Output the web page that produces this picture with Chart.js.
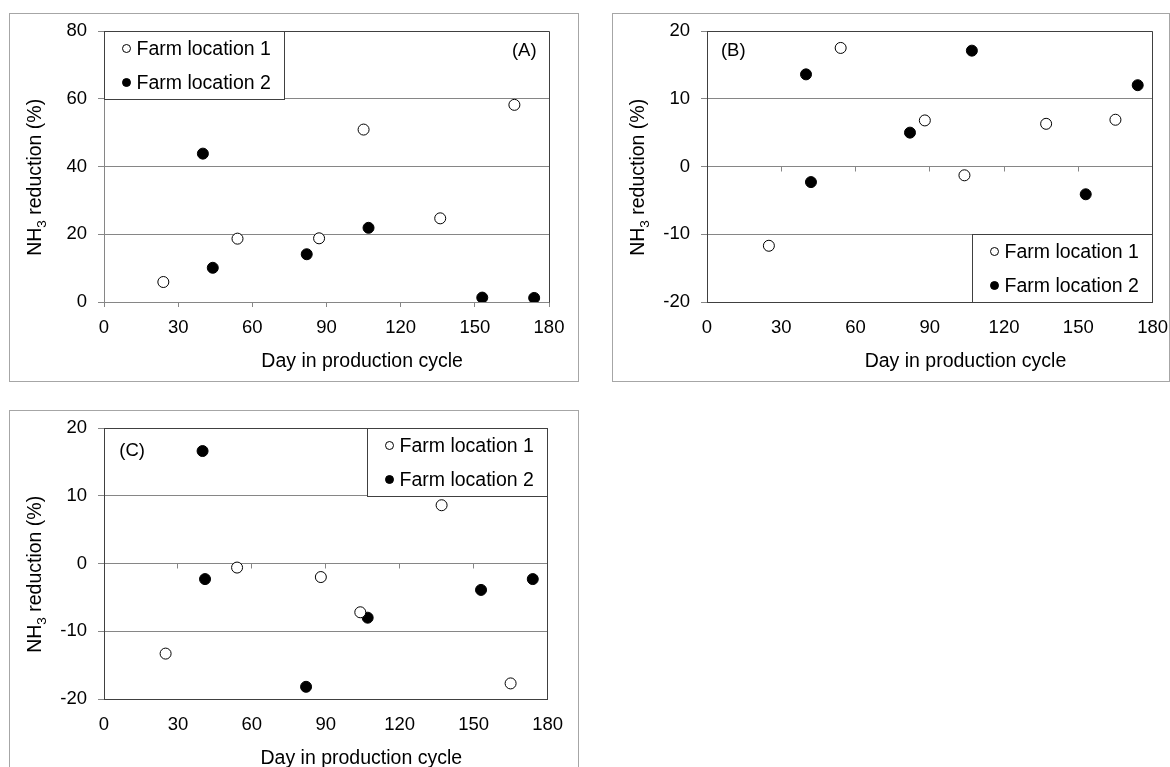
<!DOCTYPE html>
<html>
<head>
<meta charset="utf-8">
<script src="https://cdn.jsdelivr.net/npm/chart.js@4/dist/chart.umd.min.js"></script>
<style>
html, body { margin: 0; padding: 0; background: #fff; overflow: hidden; }
body { width: 1170px; height: 767px; position: relative; }
.panel { position: absolute; border: 1px solid #a6a6a6; background: #fff; overflow: hidden; }
.panel canvas { display: block; margin-top: -6px; }
#pa { left: 9px; top: 13px; width: 568px; height: 367px; }
#pb { left: 612px; top: 13px; width: 556px; height: 367px; }
#pc { left: 9px; top: 410px; width: 568px; height: 367px; }
</style>
</head>
<body>
<div class="panel" id="pa"><canvas id="chartA" width="568" height="373"></canvas></div>
<div class="panel" id="pb"><canvas id="chartB" width="570" height="373"></canvas></div>
<div class="panel" id="pc"><canvas id="chartC" width="568" height="373"></canvas></div>
<script>
// shared axis ticks
const dayTicks = [0, 30, 60, 90, 120, 150, 180];
const ticksA = [0, 20, 40, 60, 80];
const ticksBC = [-20, -10, 0, 10, 20];

const seriesNames = ['Farm location 1', 'Farm location 2'];

// panel A
const days1A = [24, 54, 87, 105, 136, 166];
const red1A = [5.9, 18.7, 18.8, 50.9, 24.7, 58.2];
const days2A = [40, 44, 82, 107, 153, 174];
const red2A = [43.8, 10.1, 14.1, 21.9, 1.3, 1.2];

// panel B
const days1B = [25, 54, 88, 104, 137, 165];
const red1B = [-11.7, 17.5, 6.8, -1.3, 6.3, 6.9];
const days2B = [40, 42, 82, 107, 153, 174];
const red2B = [13.6, -2.3, 5.0, 17.1, -4.1, 12.0];

// panel C
const days1C = [25, 54, 88, 104, 137, 165];
const red1C = [-13.3, -0.6, -2.0, -7.2, 8.6, -17.7];
const days2C = [40, 41, 82, 107, 153, 174];
const red2C = [16.6, -2.3, -18.2, -8.0, -3.9, -2.3];

const FONT = "'Liberation Sans', Arial, sans-serif";
const GRID = '#868686';
const DARK = '#404040';

Chart.defaults.font.family = FONT;
Chart.defaults.font.size = 18.5;
Chart.defaults.color = '#000';

function pts(xs, ys) {
    return xs.map((x, i) => ({ x: x, y: ys[i] }));
}

function align(p) {
    return Math.round(p - 0.5) + 0.5;
}

const panelDecor = {
    id: 'panelDecor',
    beforeDatasetsDraw(chart, args, opts) {
        const a = chart.chartArea;
        const ctx = chart.ctx;
        const xs = chart.scales.x, ys = chart.scales.y;
        ctx.save();
        // tick marks on the zero line
        if (opts.zeroTicks) {
            const y0 = align(ys.getPixelForValue(0));
            ctx.strokeStyle = GRID;
            ctx.lineWidth = 1;
            ctx.beginPath();
            xs.ticks.forEach(t => {
                const px = align(xs.getPixelForValue(t.value));
                ctx.moveTo(px, y0);
                ctx.lineTo(px, y0 + 5);
            });
            ctx.stroke();
        }
        // plot area frame
        const L = align(a.left), R = align(a.right), T = align(a.top), B = align(a.bottom);
        ctx.strokeStyle = DARK;
        ctx.lineWidth = 1;
        ctx.beginPath();
        if (opts.sides.includes('t')) { ctx.moveTo(L, T); ctx.lineTo(R, T); }
        if (opts.sides.includes('r')) { ctx.moveTo(R, T); ctx.lineTo(R, B); }
        if (opts.sides.includes('b')) { ctx.moveTo(L, B); ctx.lineTo(R, B); }
        if (opts.sides.includes('l')) { ctx.moveTo(L, T); ctx.lineTo(L, B); }
        ctx.stroke();
        ctx.restore();
    },
    afterDatasetsDraw(chart, args, opts) {
        const a = chart.chartArea;
        const ctx = chart.ctx;
        const xs = chart.scales.x, ys = chart.scales.y;
        ctx.save();

        // panel tag
        ctx.fillStyle = '#000';
        ctx.font = '18.5px ' + FONT;
        ctx.textAlign = 'center';
        ctx.textBaseline = 'middle';
        ctx.fillText(opts.tag.text, xs.getPixelForValue(opts.tag.x), ys.getPixelForValue(opts.tag.y));

        // legend box
        const w = 180, h = 68;
        let bx = a.left, by = a.top;
        if (opts.legend === 'br') { bx = a.right - w; by = a.bottom - h; }
        if (opts.legend === 'tr') { bx = a.right - w; by = a.top; }
        bx = align(bx); by = align(by);
        ctx.fillStyle = '#fff';
        ctx.fillRect(bx, by, w, h);
        ctx.strokeStyle = DARK;
        ctx.lineWidth = 1;
        ctx.strokeRect(bx, by, w, h);
        chart.data.datasets.forEach((ds, i) => {
            const cy = by + 17 + 34 * i;
            ctx.beginPath();
            ctx.arc(bx + 22, cy, 4, 0, Math.PI * 2);
            ctx.fillStyle = ds.pointBackgroundColor;
            ctx.fill();
            ctx.strokeStyle = ds.pointBorderColor;
            ctx.lineWidth = 1;
            ctx.stroke();
            ctx.fillStyle = '#000';
            ctx.textAlign = 'left';
            ctx.textBaseline = 'middle';
            ctx.font = '19.5px ' + FONT;
            ctx.fillText(ds.label, bx + 32, cy + 1);
        });

        // x axis title
        ctx.font = '19.5px ' + FONT;
        ctx.textAlign = 'center';
        ctx.textBaseline = 'middle';
        ctx.fillText('Day in production cycle', a.left + 0.58 * (a.right - a.left), a.bottom + 60);

        // y axis title with subscript
        ctx.translate(a.left - 68, a.top + 0.54 * (a.bottom - a.top));
        ctx.rotate(-Math.PI / 2);
        ctx.textAlign = 'left';
        ctx.font = '19.5px ' + FONT;
        const w1 = ctx.measureText('NH').width;
        const w3 = ctx.measureText(' reduction (%)').width;
        ctx.font = '13.5px ' + FONT;
        const w2 = ctx.measureText('3').width;
        const x0 = -(w1 + w2 + w3) / 2;
        ctx.font = '19.5px ' + FONT;
        ctx.fillText('NH', x0, 0);
        ctx.font = '13.5px ' + FONT;
        ctx.fillText('3', x0 + w1, 6);
        ctx.font = '19.5px ' + FONT;
        ctx.fillText(' reduction (%)', x0 + w1 + w2, 0);
        ctx.restore();
    }
};

function makeConfig(d1x, d1y, d2x, d2y, yTicks, decor, rightPad) {
    const zeroAxis = yTicks[0] < 0;
    return {
        type: 'scatter',
        data: {
            datasets: [{
                label: seriesNames[0],
                data: pts(d1x, d1y),
                pointRadius: 5.5,
                pointBackgroundColor: '#fff',
                pointBorderColor: '#000',
                pointBorderWidth: 1,
            }, {
                label: seriesNames[1],
                data: pts(d2x, d2y),
                pointRadius: 5.5,
                pointBackgroundColor: '#000',
                pointBorderColor: '#000',
                pointBorderWidth: 1,
            }]
        },
        options: {
            responsive: false,
            animation: false,
            layout: { padding: { left: 0, top: 23, right: rightPad, bottom: 0 } },
            plugins: {
                legend: { display: false },
                tooltip: { enabled: false },
                panelDecor: decor
            },
            scales: {
                x: {
                    type: 'linear',
                    min: dayTicks[0],
                    max: dayTicks[dayTicks.length - 1],
                    afterBuildTicks: s => { s.ticks = dayTicks.map(v => ({ value: v })); },
                    afterFit: s => { s.height = 79; },
                    grid: {
                        drawOnChartArea: false,
                        drawTicks: !zeroAxis,
                        tickLength: 5,
                        color: GRID
                    },
                    border: { color: zeroAxis ? DARK : GRID },
                    ticks: { padding: zeroAxis ? 15 : 10, maxRotation: 0 }
                },
                y: {
                    min: yTicks[0],
                    max: yTicks[yTicks.length - 1],
                    afterBuildTicks: s => { s.ticks = yTicks.map(v => ({ value: v })); },
                    afterFit: s => { s.width = 94; },
                    grid: { color: GRID, tickLength: 6 },
                    border: { color: zeroAxis ? DARK : GRID },
                    ticks: { padding: 11 }
                }
            }
        },
        plugins: [panelDecor]
    };
}

const chartA = new Chart(
    document.getElementById('chartA'),
    makeConfig(days1A, red1A, days2A, red2A, ticksA,
        { sides: 'tr', zeroTicks: false, legend: 'tl', tag: { text: '(A)', x: 170, y: 74 } }, 29)
);

const chartB = new Chart(
    document.getElementById('chartB'),
    makeConfig(days1B, red1B, days2B, red2B, ticksBC,
        { sides: 'trbl', zeroTicks: true, legend: 'br', tag: { text: '(B)', x: 10.6, y: 17 } }, 30)
);

const chartC = new Chart(
    document.getElementById('chartC'),
    makeConfig(days1C, red1C, days2C, red2C, ticksBC,
        { sides: 'trbl', zeroTicks: true, legend: 'tr', tag: { text: '(C)', x: 11.4, y: 16.6 } }, 29)
);
</script>
</body>
</html>
